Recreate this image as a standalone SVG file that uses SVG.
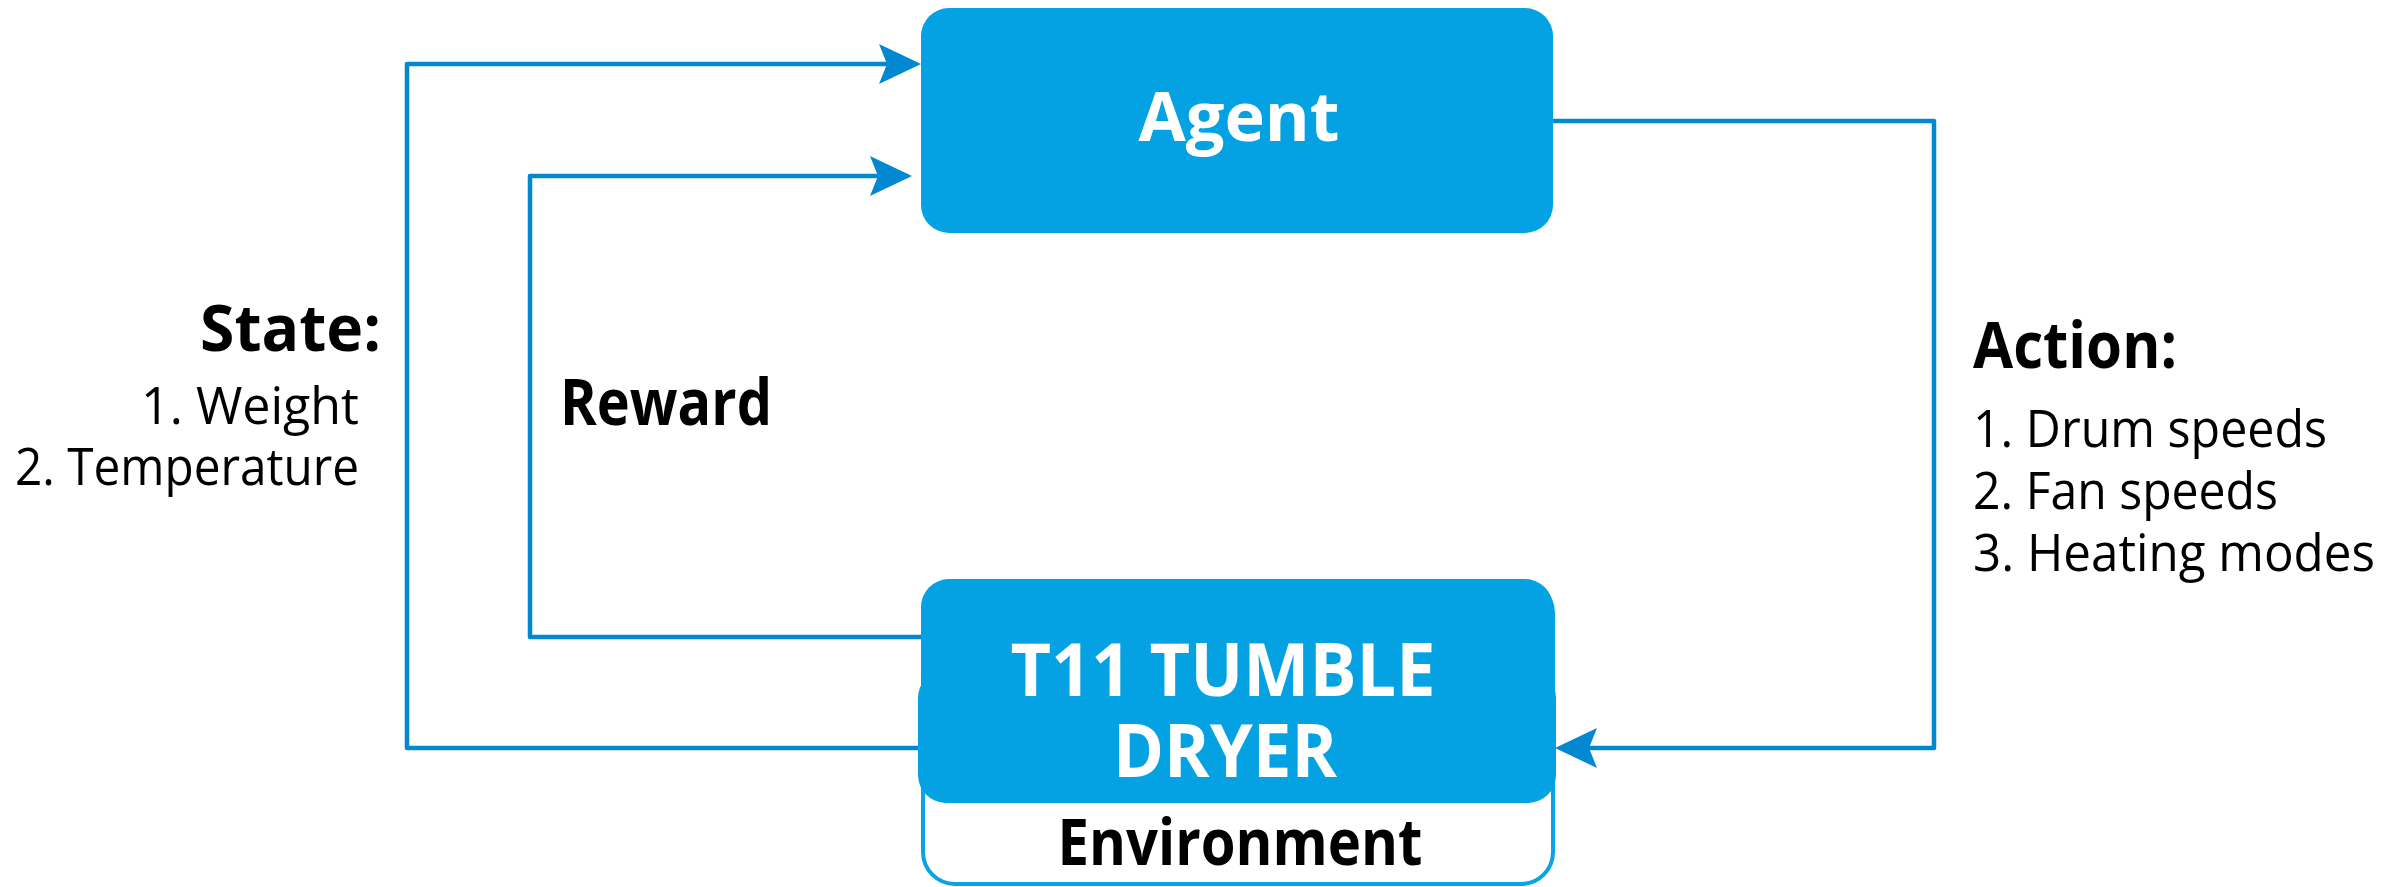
<svg xmlns="http://www.w3.org/2000/svg" width="2407" height="887" viewBox="0 0 2407 887">
<style>
.box{fill:#04A2E3}
.env{fill:#ffffff;stroke:#0AA3E4;stroke-width:4}
.conn{fill:none;stroke:#0288D1;stroke-width:4.5;stroke-linejoin:round}
.t{font-family:"Open Sans","Noto Sans",sans-serif}
.b{font-weight:bold}
.w{fill:#ffffff}
.k{fill:#000000}
.ag{font-size:68px}
.hd{font-size:64px}
.dry{font-size:74px}
.lst{font-size:51px}
</style>
<defs>
<marker id="arr" markerUnits="userSpaceOnUse" viewBox="-10 -22 46 44" refX="0" refY="0" markerWidth="46" markerHeight="44" orient="auto">
<path d="M34,0 L-8,-20 L0,0 L-8,20 Z" fill="#0288D1"/>
</marker>
</defs>
<rect width="2407" height="887" fill="#ffffff"/>
<g id="connectors">
<path class="conn" d="M921,748 L407,748 L407,64 L887,64" marker-end="url(#arr)"/>
<path class="conn" d="M937,637 L530,637 L530,176 L878,176" marker-end="url(#arr)"/>
<path class="conn" d="M1553,121 L1934,121 L1934,748 L1589,748" marker-end="url(#arr)"/>
</g>
<g id="agent">
<rect class="box" x="921" y="8" width="632" height="225" rx="28" ry="28"/>
<text class="t b w ag" x="1239" y="141" text-anchor="middle" textLength="201" lengthAdjust="spacingAndGlyphs">Agent</text>
</g>
<g id="environment">
<rect class="env" x="923" y="581" width="630" height="303" rx="32" ry="32"/>
<rect class="box" x="921" y="579" width="632" height="224" rx="28" ry="28"/>
<rect class="box" x="918" y="670" width="638" height="133" rx="28" ry="28"/>
<text class="t b w dry" x="1223" y="696" text-anchor="middle" textLength="425" lengthAdjust="spacingAndGlyphs">T11 TUMBLE</text>
<text class="t b w dry" x="1225" y="777" text-anchor="middle" textLength="224" lengthAdjust="spacingAndGlyphs">DRYER</text>
<text class="t b k hd" x="1240" y="865" text-anchor="middle" textLength="365" lengthAdjust="spacingAndGlyphs">Environment</text>
</g>
<g id="state-label">
<text class="t b k hd" x="381" y="351" text-anchor="end" textLength="181" lengthAdjust="spacingAndGlyphs">State:</text>
<text class="t k lst" x="359" y="424" text-anchor="end" textLength="218" lengthAdjust="spacingAndGlyphs">1. Weight</text>
<text class="t k lst" x="359" y="485" text-anchor="end" textLength="344" lengthAdjust="spacingAndGlyphs">2. Temperature</text>
</g>
<g id="reward-label">
<text class="t b k hd" x="560" y="425" textLength="212" lengthAdjust="spacingAndGlyphs">Reward</text>
</g>
<g id="action-label">
<text class="t b k hd" x="1973" y="368" textLength="204" lengthAdjust="spacingAndGlyphs">Action:</text>
<text class="t k lst" x="1973" y="447" textLength="354" lengthAdjust="spacingAndGlyphs">1. Drum speeds</text>
<text class="t k lst" x="1973" y="509" textLength="305" lengthAdjust="spacingAndGlyphs">2. Fan speeds</text>
<text class="t k lst" x="1973" y="571" textLength="402" lengthAdjust="spacingAndGlyphs">3. Heating modes</text>
</g>
</svg>
